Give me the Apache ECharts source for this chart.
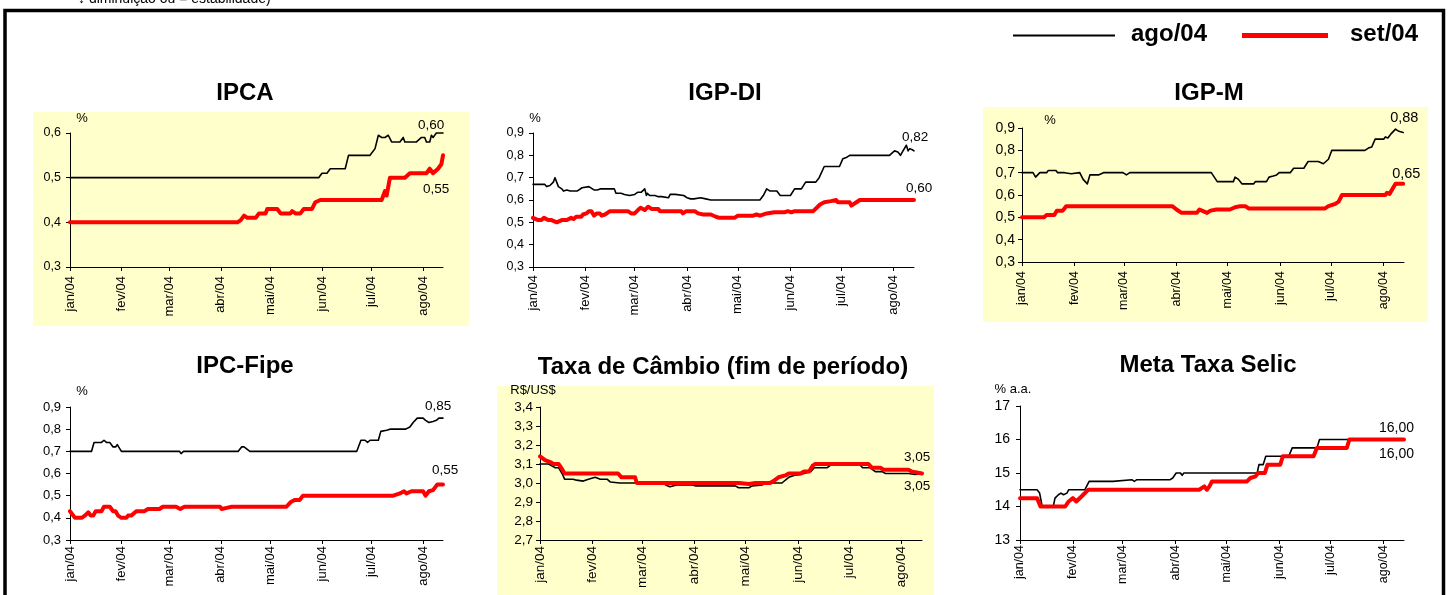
<!DOCTYPE html>
<html><head><meta charset="utf-8">
<script src="https://cdn.jsdelivr.net/npm/echarts@6/dist/echarts.min.js"></script>
<style>html,body{margin:0;padding:0;background:#fff}#c{width:1448px;height:595px}</style>
</head><body><div id="c"></div>
<script>
// x = day of year 2004 (0 = 1 Jan). Points are [day, value].
const monthLabels = ['jan/04','fev/04','mar/04','abr/04','mai/04','jun/04','jul/04','ago/04'];
const monthStartDays = [0,31,60,91,121,152,182,213];
const lastDay = 225;
const seriesNames = ['ago/04','set/04'];

const ipcaAgo = [[0,0.50],[150,0.50],[152,0.51],[155,0.51],[157,0.52],[166,0.52],[168,0.55],[181,0.55],[184,0.565],[186,0.595],[188,0.59],[190,0.59],[192,0.595],[194,0.58],[199,0.58],[201,0.59],[202,0.58],[209,0.58],[212,0.59],[214,0.59],[215,0.58],[217,0.58],[218,0.595],[219,0.59],[221,0.60],[225,0.60]];
const ipcaSet = [[0,0.40],[101,0.40],[103,0.405],[105,0.415],[107,0.41],[112,0.41],[114,0.42],[118,0.42],[119,0.43],[125,0.43],[127,0.42],[133,0.42],[134,0.425],[136,0.42],[139,0.42],[141,0.43],[146,0.43],[148,0.445],[151,0.45],[188,0.45],[190,0.47],[191,0.46],[192,0.46],[193,0.50],[202,0.50],[205,0.51],[215,0.51],[217,0.52],[219,0.51],[222,0.52],[224,0.53],[225,0.55]];

const igpdiAgo = [[0,0.67],[7,0.67],[8,0.66],[10,0.665],[12,0.68],[13,0.70],[15,0.66],[17,0.65],[18,0.64],[20,0.645],[22,0.64],[26,0.64],[27,0.645],[29,0.655],[30,0.66],[33,0.66],[34,0.655],[36,0.645],[38,0.645],[39,0.64],[40,0.65],[48,0.65],[49,0.63],[52,0.63],[54,0.625],[55,0.62],[57,0.62],[58,0.625],[60,0.625],[61,0.62],[62,0.635],[64,0.635],[65,0.64],[66,0.65],[67,0.62],[67.5,0.63],[69,0.62],[72,0.62],[74,0.615],[75,0.61],[76,0.615],[77,0.61],[80,0.61],[81,0.625],[84,0.625],[85,0.62],[89,0.62],[91,0.61],[93,0.605],[95,0.605],[96,0.61],[99,0.61],[100,0.605],[102,0.605],[103,0.61],[105,0.60],[134,0.60],[136,0.62],[138,0.65],[140,0.64],[144,0.64],[146,0.62],[149,0.62],[150,0.615],[152,0.62],[154.5,0.65],[158.5,0.65],[161,0.68],[167,0.68],[169,0.70],[172,0.75],[181,0.75],[183,0.785],[185,0.79],[187,0.80],[210.5,0.80],[213.5,0.82],[215.5,0.815],[217,0.80],[218.5,0.82],[220.5,0.845],[221.5,0.82],[222.5,0.83],[224,0.825],[225,0.82]];
const igpdiSet = [[0,0.52],[3,0.51],[5,0.51],[6.5,0.52],[9,0.51],[11,0.51],[14,0.50],[17,0.51],[20,0.51],[21,0.515],[22.5,0.52],[24,0.515],[25.5,0.525],[28.5,0.525],[29.5,0.535],[31.5,0.54],[33,0.55],[34.5,0.55],[36,0.53],[37.5,0.54],[39.5,0.54],[40.5,0.53],[42.5,0.535],[45.5,0.55],[56,0.55],[58,0.54],[60,0.54],[62,0.555],[63.5,0.565],[66,0.555],[68,0.57],[70,0.56],[74,0.56],[75,0.55],[87.5,0.55],[88.5,0.54],[90.5,0.55],[95.5,0.55],[97.5,0.54],[100.5,0.535],[105,0.535],[108,0.525],[110,0.52],[119,0.52],[121,0.53],[130,0.53],[132,0.535],[134,0.53],[138,0.54],[142.5,0.545],[148.5,0.545],[150.5,0.55],[152.5,0.545],[154.5,0.55],[165.5,0.55],[169.5,0.58],[172,0.59],[176,0.595],[177,0.60],[179,0.60],[180,0.59],[187,0.59],[188,0.575],[191,0.59],[193,0.60],[225,0.60]];

const igpmAgo = [[0,0.70],[6.5,0.70],[8,0.68],[10.5,0.70],[14.5,0.70],[15.5,0.71],[20,0.71],[21,0.70],[25,0.70],[26,0.695],[29,0.695],[30,0.70],[34,0.70],[36,0.67],[38.5,0.65],[40,0.69],[45,0.69],[48,0.70],[59.5,0.70],[61.5,0.69],[63.5,0.70],[111.5,0.70],[115,0.66],[124.5,0.66],[125.5,0.68],[127.5,0.67],[129.5,0.65],[136.5,0.65],[137.5,0.66],[144,0.66],[144.5,0.655],[145.5,0.68],[148,0.685],[150,0.69],[151.5,0.70],[158,0.70],[160,0.72],[166,0.72],[168.5,0.75],[174.5,0.75],[177.5,0.74],[180.5,0.76],[182.5,0.80],[202,0.80],[204,0.81],[206,0.815],[208,0.85],[213,0.85],[214,0.86],[215.5,0.855],[217.5,0.875],[220,0.895],[222,0.885],[224.5,0.88]];
const igpmSet = [[0,0.50],[13,0.50],[14.5,0.51],[19,0.51],[20.5,0.53],[24,0.53],[26,0.55],[88.5,0.55],[91,0.535],[94,0.52],[103,0.52],[104.5,0.535],[106,0.53],[109,0.52],[111,0.53],[114.5,0.535],[122.5,0.535],[125.5,0.545],[128.5,0.55],[131.5,0.55],[133.5,0.54],[150,0.54],[151,0.545],[152,0.54],[178.5,0.54],[180.5,0.55],[184.5,0.56],[186.5,0.57],[188.5,0.60],[214,0.60],[215,0.61],[216.5,0.605],[220,0.65],[224.5,0.65]];

const ipcfAgo = [[0,0.70],[13,0.70],[14.5,0.74],[19,0.74],[20.5,0.75],[22,0.74],[24,0.74],[26,0.72],[27.5,0.72],[28.5,0.73],[31,0.70],[66,0.70],[67,0.69],[68.5,0.70],[101.5,0.70],[103.5,0.72],[105,0.72],[108.5,0.70],[173,0.70],[175.5,0.75],[178,0.75],[179.5,0.74],[181,0.75],[186,0.75],[187.5,0.79],[191,0.795],[193,0.80],[202.5,0.80],[205,0.81],[207,0.83],[209.5,0.85],[213,0.85],[214.5,0.84],[216.5,0.83],[219,0.835],[221,0.84],[222.5,0.85],[225,0.85]];
const ipcfSet = [[0,0.43],[2,0.41],[3,0.40],[7,0.40],[9,0.41],[11,0.425],[12.5,0.41],[14,0.41],[15.5,0.43],[19,0.43],[20.5,0.45],[24,0.45],[26,0.43],[27.5,0.43],[29,0.41],[31,0.40],[34,0.40],[35,0.41],[37,0.41],[38,0.405],[40,0.43],[45,0.43],[47,0.44],[54,0.44],[56,0.45],[64,0.45],[66.5,0.44],[69,0.45],[90.5,0.45],[91.5,0.44],[94.5,0.445],[97.5,0.45],[130.5,0.45],[133,0.47],[135.5,0.48],[138.5,0.48],[140.5,0.50],[195,0.50],[199,0.51],[201.5,0.52],[203,0.51],[206,0.52],[213,0.52],[214.5,0.50],[216.5,0.52],[219,0.525],[220,0.53],[221.5,0.55],[225,0.55]];

const cambioAgo = [[0,3.10],[5,3.10],[7,3.09],[9,3.08],[11,3.08],[12,3.07],[13,3.05],[14.5,3.02],[19.5,3.02],[21.5,3.015],[25.5,3.01],[28.5,3.02],[32.5,3.03],[35.5,3.02],[39.5,3.02],[41.5,3.005],[47,3.00],[72,3.00],[74,2.99],[76.5,2.98],[80.5,2.99],[89.5,2.99],[90.5,3.00],[91.5,2.985],[115,2.985],[117,2.975],[123,2.975],[125,2.985],[131,2.99],[132.5,3.00],[142.5,3.00],[143.5,3.01],[146.5,3.03],[149.5,3.04],[153.5,3.045],[159.5,3.06],[161.5,3.08],[169,3.08],[170,3.09],[172,3.10],[188,3.10],[190,3.08],[194.5,3.08],[197.5,3.06],[201.5,3.06],[203.5,3.05],[217,3.05],[221,3.045],[225,3.05]];
const cambioSet = [[0,3.14],[3,3.12],[6,3.11],[8,3.10],[11,3.10],[12.5,3.08],[14.5,3.05],[32.5,3.05],[33.5,3.06],[35.5,3.05],[46,3.05],[48,3.03],[56,3.03],[57,3.00],[117,3.00],[118,2.99],[123,2.995],[127,3.00],[135.5,3.00],[137.5,3.01],[140.5,3.03],[144.5,3.04],[146.5,3.05],[153.5,3.05],[155.5,3.06],[158.5,3.06],[160.5,3.09],[162,3.10],[193.5,3.10],[195.5,3.08],[200.5,3.08],[202.5,3.07],[217,3.07],[219,3.06],[222,3.055],[225,3.05]];

const selicAgo = [[0,14.5],[10,14.5],[11.5,14.4],[13,14.0],[19.5,14.0],[20.5,14.25],[22.5,14.35],[24,14.4],[25.5,14.35],[26.5,14.35],[27.5,14.4],[28.5,14.5],[38,14.5],[39,14.6],[40.5,14.75],[54.5,14.75],[55.5,14.8],[65.5,14.8],[67,14.75],[68.5,14.8],[88,14.8],[89.5,14.85],[91.5,15.0],[94,15.0],[95,14.93],[96,15.0],[139,15.0],[140,15.25],[142.5,15.25],[144,15.5],[157.5,15.5],[159.5,15.75],[174,15.75],[175.5,16.0],[225,16.0]];
const selicSet = [[0,14.25],[10,14.25],[12,14.0],[26.5,14.0],[28.5,14.15],[31,14.25],[33,14.15],[34,14.15],[36,14.3],[37,14.35],[40,14.5],[105,14.5],[108,14.6],[109.5,14.5],[111,14.6],[112.5,14.75],[133,14.75],[135,14.85],[138,14.9],[139.5,15.0],[143.5,15.0],[145,15.25],[152.5,15.25],[154,15.5],[172,15.5],[174,15.75],[191.5,15.75],[193,16.0],[225,16.0]];

const titles = ['IPCA','IGP-DI','IGP-M','IPC-Fipe','Taxa de Câmbio (fim de período)','Meta Taxa Selic'];
const units = ['%','%','%','%','R$/US$','% a.a.'];
const yRanges = [[0.3,0.6,0.1],[0.3,0.9,0.1],[0.3,0.9,0.1],[0.3,0.9,0.1],[2.7,3.4,0.1],[13,17,1]];
const noteText = '↓ diminuição ou = estabilidade)';

// layout / style (not data)
const FONT = '"Liberation Sans", Arial, sans-serif';
const layout = [
  {grid:{left:70,top:133,width:373,height:134}, title:[245,93], unit:[82,118], bg:[33,112,436,214], tickFs:12.5, endFs:13.5, xFs:13, yM:9, xM:9, dec:1, off:[[-25,-8],[-20,34]]},
  {grid:{left:533,top:133,width:381,height:134}, title:[725,93], unit:[535,118], bg:null, tickFs:12.5, endFs:13.5, xFs:13, yM:9, xM:8, dec:1, off:[[-12,-14],[-8,-12]]},
  {grid:{left:1022,top:128,width:382,height:134}, title:[1209,93], unit:[1050,120], bg:[983,107,445,215], tickFs:14, endFs:14.5, xFs:12.5, yM:7, xM:9, dec:1, off:[[-13,-14],[-11,-10]]},
  {grid:{left:70,top:407,width:373,height:133}, title:[245,366], unit:[82,391], bg:null, tickFs:13, endFs:13.5, xFs:13, yM:9, xM:6, dec:1, off:[[-18,-12],[-11,-14]]},
  {grid:{left:540,top:407,width:382,height:133}, title:[723,367], unit:[533,390], bg:[497,386,437,220], tickFs:13.5, endFs:13.5, xFs:13.5, yM:7, xM:6, dec:1, off:[[-18,13],[-18,-16]]},
  {grid:{left:1020,top:406,width:384,height:134}, title:[1208,365], unit:[1013,389], bg:null, tickFs:14, endFs:14, xFs:12.5, yM:10, xM:5, dec:0, off:[[-25,-11],[-25,15]]}
];
const dataPairs = [[ipcaAgo,ipcaSet],[igpdiAgo,igpdiSet],[igpmAgo,igpmSet],[ipcfAgo,ipcfSet],[cambioAgo,cambioSet],[selicAgo,selicSet]];

const fmt = (v,d) => v.toFixed(d).replace('.',',');

const grids=[], xAxes=[], yAxes=[], series=[], graphics=[];
layout.forEach((L,i)=>{
  grids.push(Object.assign({containLabel:false}, L.grid));
  xAxes.push({type:'value', gridIndex:i, min:0, max:lastDay,
    axisLine:{show:true,onZero:false,lineStyle:{color:'#000',width:1}},
    axisTick:{show:true,customValues:monthStartDays,length:4,lineStyle:{color:'#000'}},
    axisLabel:{customValues:monthStartDays, rotate:90, margin:L.xM, fontSize:L.xFs, color:'#000', fontFamily:FONT,
      formatter:v=>monthLabels[monthStartDays.indexOf(Math.round(v))]||''},
    splitLine:{show:false}});
  const r = yRanges[i];
  yAxes.push({type:'value', gridIndex:i, min:r[0], max:r[1], interval:r[2],
    axisLine:{show:true,lineStyle:{color:'#000',width:1}},
    axisTick:{show:true,length:4,lineStyle:{color:'#000'}},
    axisLabel:{margin:L.yM, fontSize:L.tickFs, color:'#000', fontFamily:FONT, formatter:v=>fmt(v,L.dec)},
    splitLine:{show:false}});
  dataPairs[i].forEach((d,k)=>{
    series.push({type:'line', name:seriesNames[k], xAxisIndex:i, yAxisIndex:i, data:d,
      symbol:'none', showSymbol:false, silent:true, animation:false, clip:false,
      z: 2+k,
      lineStyle:{color:k?'#FF0000':'#000000', width:k?4:1.6, join:'round', cap:'round'},
      itemStyle:{color:k?'#FF0000':'#000000'},
      endLabel:{show:true, distance:0, offset:L.off[k], fontSize:L.endFs, color:'#000', fontFamily:FONT,
        formatter:p=>fmt(p.value[1],2)}});
  });
  if (L.bg) graphics.push({type:'rect', z:-5, silent:true, shape:{x:L.bg[0],y:L.bg[1],width:L.bg[2],height:L.bg[3]}, style:{fill:'#FFFFCC'}});
  graphics.push({type:'text', silent:true, style:{text:titles[i], x:L.title[0], y:L.title[1], align:'center', verticalAlign:'middle', font:'bold 24px '+FONT, fill:'#000'}});
  graphics.push({type:'text', silent:true, style:{text:units[i], x:L.unit[0], y:L.unit[1], align:'center', verticalAlign:'middle', font:'13px '+FONT, fill:'#000'}});
});
// frame, note and legend
graphics.push({type:'rect', silent:true, z:10, shape:{x:5,y:10.5,width:1438.5,height:700}, style:{fill:'none', stroke:'#000', lineWidth:3.5}});
graphics.push({type:'text', silent:true, style:{text:noteText, x:78, y:-0.5, align:'left', verticalAlign:'middle', font:'14px '+FONT, fill:'#000'}});
graphics.push({type:'line', silent:true, shape:{x1:1013,y1:35.5,x2:1115,y2:35.5}, style:{stroke:'#000', lineWidth:2}});
graphics.push({type:'text', silent:true, style:{text:seriesNames[0], x:1131, y:34, align:'left', verticalAlign:'middle', font:'bold 24px '+FONT, fill:'#000'}});
graphics.push({type:'line', silent:true, shape:{x1:1242,y1:35.5,x2:1328,y2:35.5}, style:{stroke:'#FF0000', lineWidth:5}});
graphics.push({type:'text', silent:true, style:{text:seriesNames[1], x:1350, y:34, align:'left', verticalAlign:'middle', font:'bold 24px '+FONT, fill:'#000'}});

const chart = echarts.init(document.getElementById('c'), null, {renderer:'canvas'});
chart.setOption({animation:false, textStyle:{fontFamily:FONT}, grid:grids, xAxis:xAxes, yAxis:yAxes, series:series, graphic:{elements:graphics}});
</script></body></html>
